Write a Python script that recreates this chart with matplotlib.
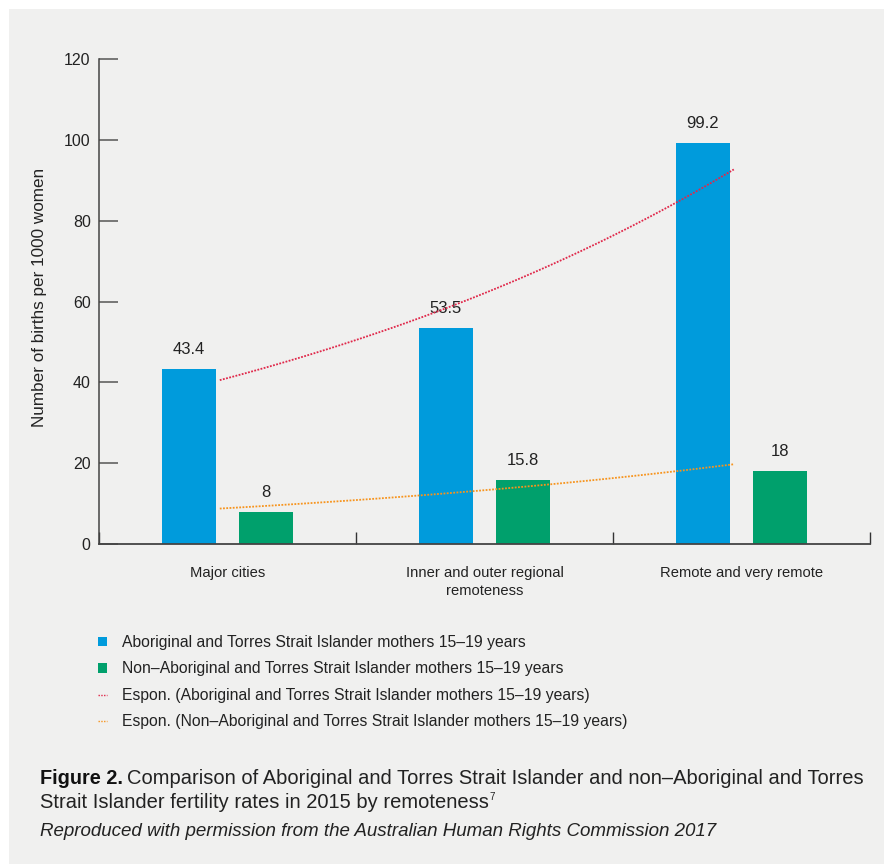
import numpy as np
import matplotlib
matplotlib.use("Agg")
import matplotlib.pyplot as plt
from matplotlib.patches import Rectangle, Patch
from matplotlib.lines import Line2D

categories = ["Major cities", "Inner and outer regional\nremoteness", "Remote and very remote"]
indigenous = [43.4, 53.5, 99.2]
non_indigenous = [8, 15.8, 18]
series_names = ["Aboriginal and Torres Strait Islander mothers 15\u201319 years",
                "Non\u2013Aboriginal and Torres Strait Islander mothers 15\u201319 years"]
yticks = [0, 20, 40, 60, 80, 100, 120]

BLUE = "#009bdc"
GREEN = "#00a06c"
RED = "#e0284a"
ORANGE = "#f7941d"
BG = "#f0f0ef"
TXT = "#222222"

plt.rcParams['font.family'] = ['Liberation Sans', 'DejaVu Sans']
W, H = 884, 864
fig = plt.figure(figsize=(W / 100, H / 100), dpi=100, facecolor="white")
fig.patches.append(Rectangle((9 / W, 0), 1, 1 - 9 / H, transform=fig.transFigure,
                             facecolor=BG, edgecolor="none", zorder=-10))

ax = fig.add_axes([99 / W, 1 - 544 / H, (870 - 99) / W, (544 - 59) / H])
ax.set_facecolor("none")

x = np.arange(len(categories))
bw = 0.21
off = 0.15
b1 = ax.bar(x - off, indigenous, bw, color=BLUE, zorder=2)
b2 = ax.bar(x + off, non_indigenous, bw, color=GREEN, zorder=2)

for rects, vals in ((b1, indigenous), (b2, non_indigenous)):
    for r, v in zip(rects, vals):
        ax.annotate("%g" % v, (r.get_x() + r.get_width() / 2, v), xytext=(0, 8.5),
                    textcoords="offset points", ha="center", va="bottom",
                    fontsize=12, color=TXT)

# exponential trendlines (fit on the bar values, like the spreadsheet "Expon." trend)
xs = np.linspace(0, 2, 100)
xt = xs - 0.03
for vals, col in ((indigenous, RED), (non_indigenous, ORANGE)):
    k, c = np.polyfit(x + 1, np.log(vals), 1)
    ax.plot(xt, np.exp(c + k * (xs + 1)), color=col, lw=1.3, ls=(0, (1, 0.8)), zorder=3)

ax.set_xlim(-0.5, 2.5)
ax.set_ylim(0, 120)
ax.set_yticks(yticks)
ax.tick_params(axis="y", direction="in", length=13.5, width=1.1, color="#555555",
               labelsize=11.5, labelcolor=TXT, pad=6)
ax.set_xticks([-0.5, 0.5, 1.5, 2.5])
ax.set_xticklabels([])
ax.tick_params(axis="x", which="major", direction="in", length=8.5, width=1.0, color="#333333")
ax.set_xticks(x, minor=True)
ax.set_xticklabels(categories, minor=True, fontsize=10.6, color=TXT, linespacing=1.3)
ax.tick_params(axis="x", which="minor", length=0, pad=16)
for s in ("top", "right"):
    ax.spines[s].set_visible(False)
ax.spines["left"].set_color("#444444")
ax.spines["bottom"].set_color("#444444")
ax.spines["left"].set_linewidth(1.1)
ax.spines["bottom"].set_linewidth(1.3)
ax.set_ylabel("Number of births per 1000 women", fontsize=12.3, color=TXT, labelpad=0)
ax.yaxis.set_label_coords((47 - 99) / (870 - 99), (544 - 297) / (544 - 59))

handles = [Patch(facecolor=BLUE, edgecolor="none"),
           Patch(facecolor=GREEN, edgecolor="none"),
           Line2D([], [], color=RED, lw=1.0, ls=(0, (1, 1))),
           Line2D([], [], color=ORANGE, lw=1.0, ls=(0, (1, 1)))]
labels = series_names + ["Espon. (" + n + ")" for n in series_names]
fig.legend(handles, labels, loc="upper left", bbox_to_anchor=(84 / W, 1 - 621 / H),
           frameon=False, fontsize=11.3, handlelength=0.55, handleheight=0.55,
           handletextpad=1.0, labelspacing=0.72, labelcolor=TXT)

fig.canvas.draw()
r = fig.canvas.get_renderer()


def fit_text(t, width_px):
    # scale a caption line so it spans the same width as in the original
    w = t.get_window_extent(r).width
    t.set_fontsize(t.get_fontsize() * width_px / w)


t1 = fig.text(40 / W, 1 - 778 / H, "Figure 2.", fontsize=14.3, fontweight="bold",
              va="center", color="#111111")
bb = t1.get_window_extent(r)
t2 = fig.text(bb.x1 / W + 4 / W, 1 - 778 / H,
              "Comparison of Aboriginal and Torres Strait Islander and non\u2013Aboriginal and Torres",
              fontsize=14, va="center", color=TXT)
fit_text(t2, 866 - bb.x1 - 4)
t3 = fig.text(40 / W, 1 - 803 / H, "Strait Islander fertility rates in 2015 by remoteness",
              fontsize=t2.get_fontsize(), va="center", color=TXT)
bb3 = t3.get_window_extent(r)
fig.text(bb3.x1 / W + 1 / W, 1 - 797 / H, "7", fontsize=7, va="center", color=TXT)
t4 = fig.text(40 / W, 1 - 831 / H,
              "Reproduced with permission from the Australian Human Rights Commission 2017",
              fontsize=13, style="italic", va="center", color=TXT)
fit_text(t4, 675)

fig.savefig("out.png", dpi=100, facecolor="white")
